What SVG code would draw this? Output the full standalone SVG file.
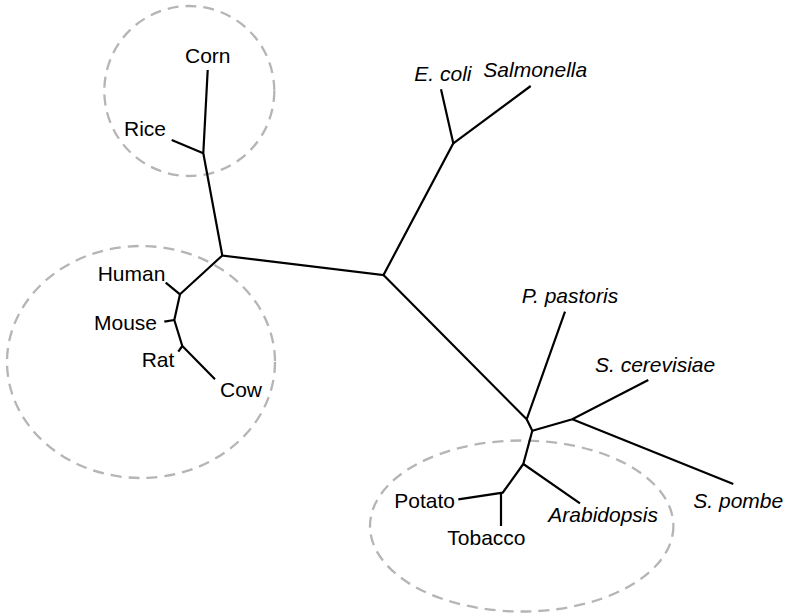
<svg xmlns="http://www.w3.org/2000/svg" width="785" height="613" viewBox="0 0 785 613">
<style>
.grp{fill:none;stroke:#b5b5b5;stroke-width:2.3;stroke-dasharray:11 7}
.br{fill:none;stroke:#000;stroke-width:2.2;stroke-linejoin:miter;stroke-linecap:butt}
text{font-family:"Liberation Sans",Arial,Helvetica,sans-serif;font-size:21px;fill:#000}
.it{font-style:italic}
</style>
<rect width="785" height="613" fill="#fff"/>
<g id="groups">
<ellipse id="group-grasses" class="grp" cx="189.3" cy="91" rx="85" ry="85"/>
<ellipse id="group-mammals" class="grp" cx="141" cy="362" rx="134" ry="116"/>
<ellipse id="group-plants" class="grp" cx="521.7" cy="526" rx="151.7" ry="85.5"/>
</g>
<g id="connectors">
<polyline class="br" points="207.7,70 203.3,153.3 222.3,255.5 383.5,275 453.3,143.3 441,89.3"/>
<polyline class="br" points="171.7,140 203.3,153.3"/>
<polyline class="br" points="453.3,143.3 530.7,86"/>
<polyline class="br" points="222.3,255.5 180,294.3 174.3,320 182.3,346 215,379.3"/>
<polyline class="br" points="165.7,282.7 180,294.3"/>
<polyline class="br" points="164.3,321.7 174.3,320"/>
<polyline class="br" points="178.3,351.7 182.3,346"/>
<polyline class="br" points="383.5,275 526.7,419.3 565,311.7"/>
<polyline class="br" points="526.7,419.3 532.3,430.7 572.3,419.3 648.3,380"/>
<polyline class="br" points="572.3,419.3 733.3,484"/>
<polyline class="br" points="532.3,430.7 523.3,464 580,503.3"/>
<polyline class="br" points="523.3,464 502.7,492.7 458.3,499.3"/>
<polyline class="br" points="501,492.7 501,526"/>
</g>
<g id="node-corn"><text x="185" y="63.3">Corn</text></g>
<g id="node-rice"><text x="124" y="136">Rice</text></g>
<g id="node-human"><text x="97.7" y="281">Human</text></g>
<g id="node-mouse"><text x="94" y="330">Mouse</text></g>
<g id="node-rat"><text x="141.7" y="367.3">Rat</text></g>
<g id="node-cow"><text x="220" y="397.3">Cow</text></g>
<g id="node-ecoli"><text class="it" x="414.3" y="80.7">E. coli</text></g>
<g id="node-salmonella"><text class="it" x="483.3" y="77.3">Salmonella</text></g>
<g id="node-ppastoris"><text class="it" x="521.7" y="302.7">P. pastoris</text></g>
<g id="node-scerevisiae"><text class="it" x="595" y="371.7">S. cerevisiae</text></g>
<g id="node-spombe"><text class="it" x="693.3" y="508.3">S. pombe</text></g>
<g id="node-potato"><text x="394.3" y="508.3">Potato</text></g>
<g id="node-arabidopsis"><text class="it" x="548.3" y="521.7">Arabidopsis</text></g>
<g id="node-tobacco"><text x="447.3" y="545">Tobacco</text></g>
</svg>
